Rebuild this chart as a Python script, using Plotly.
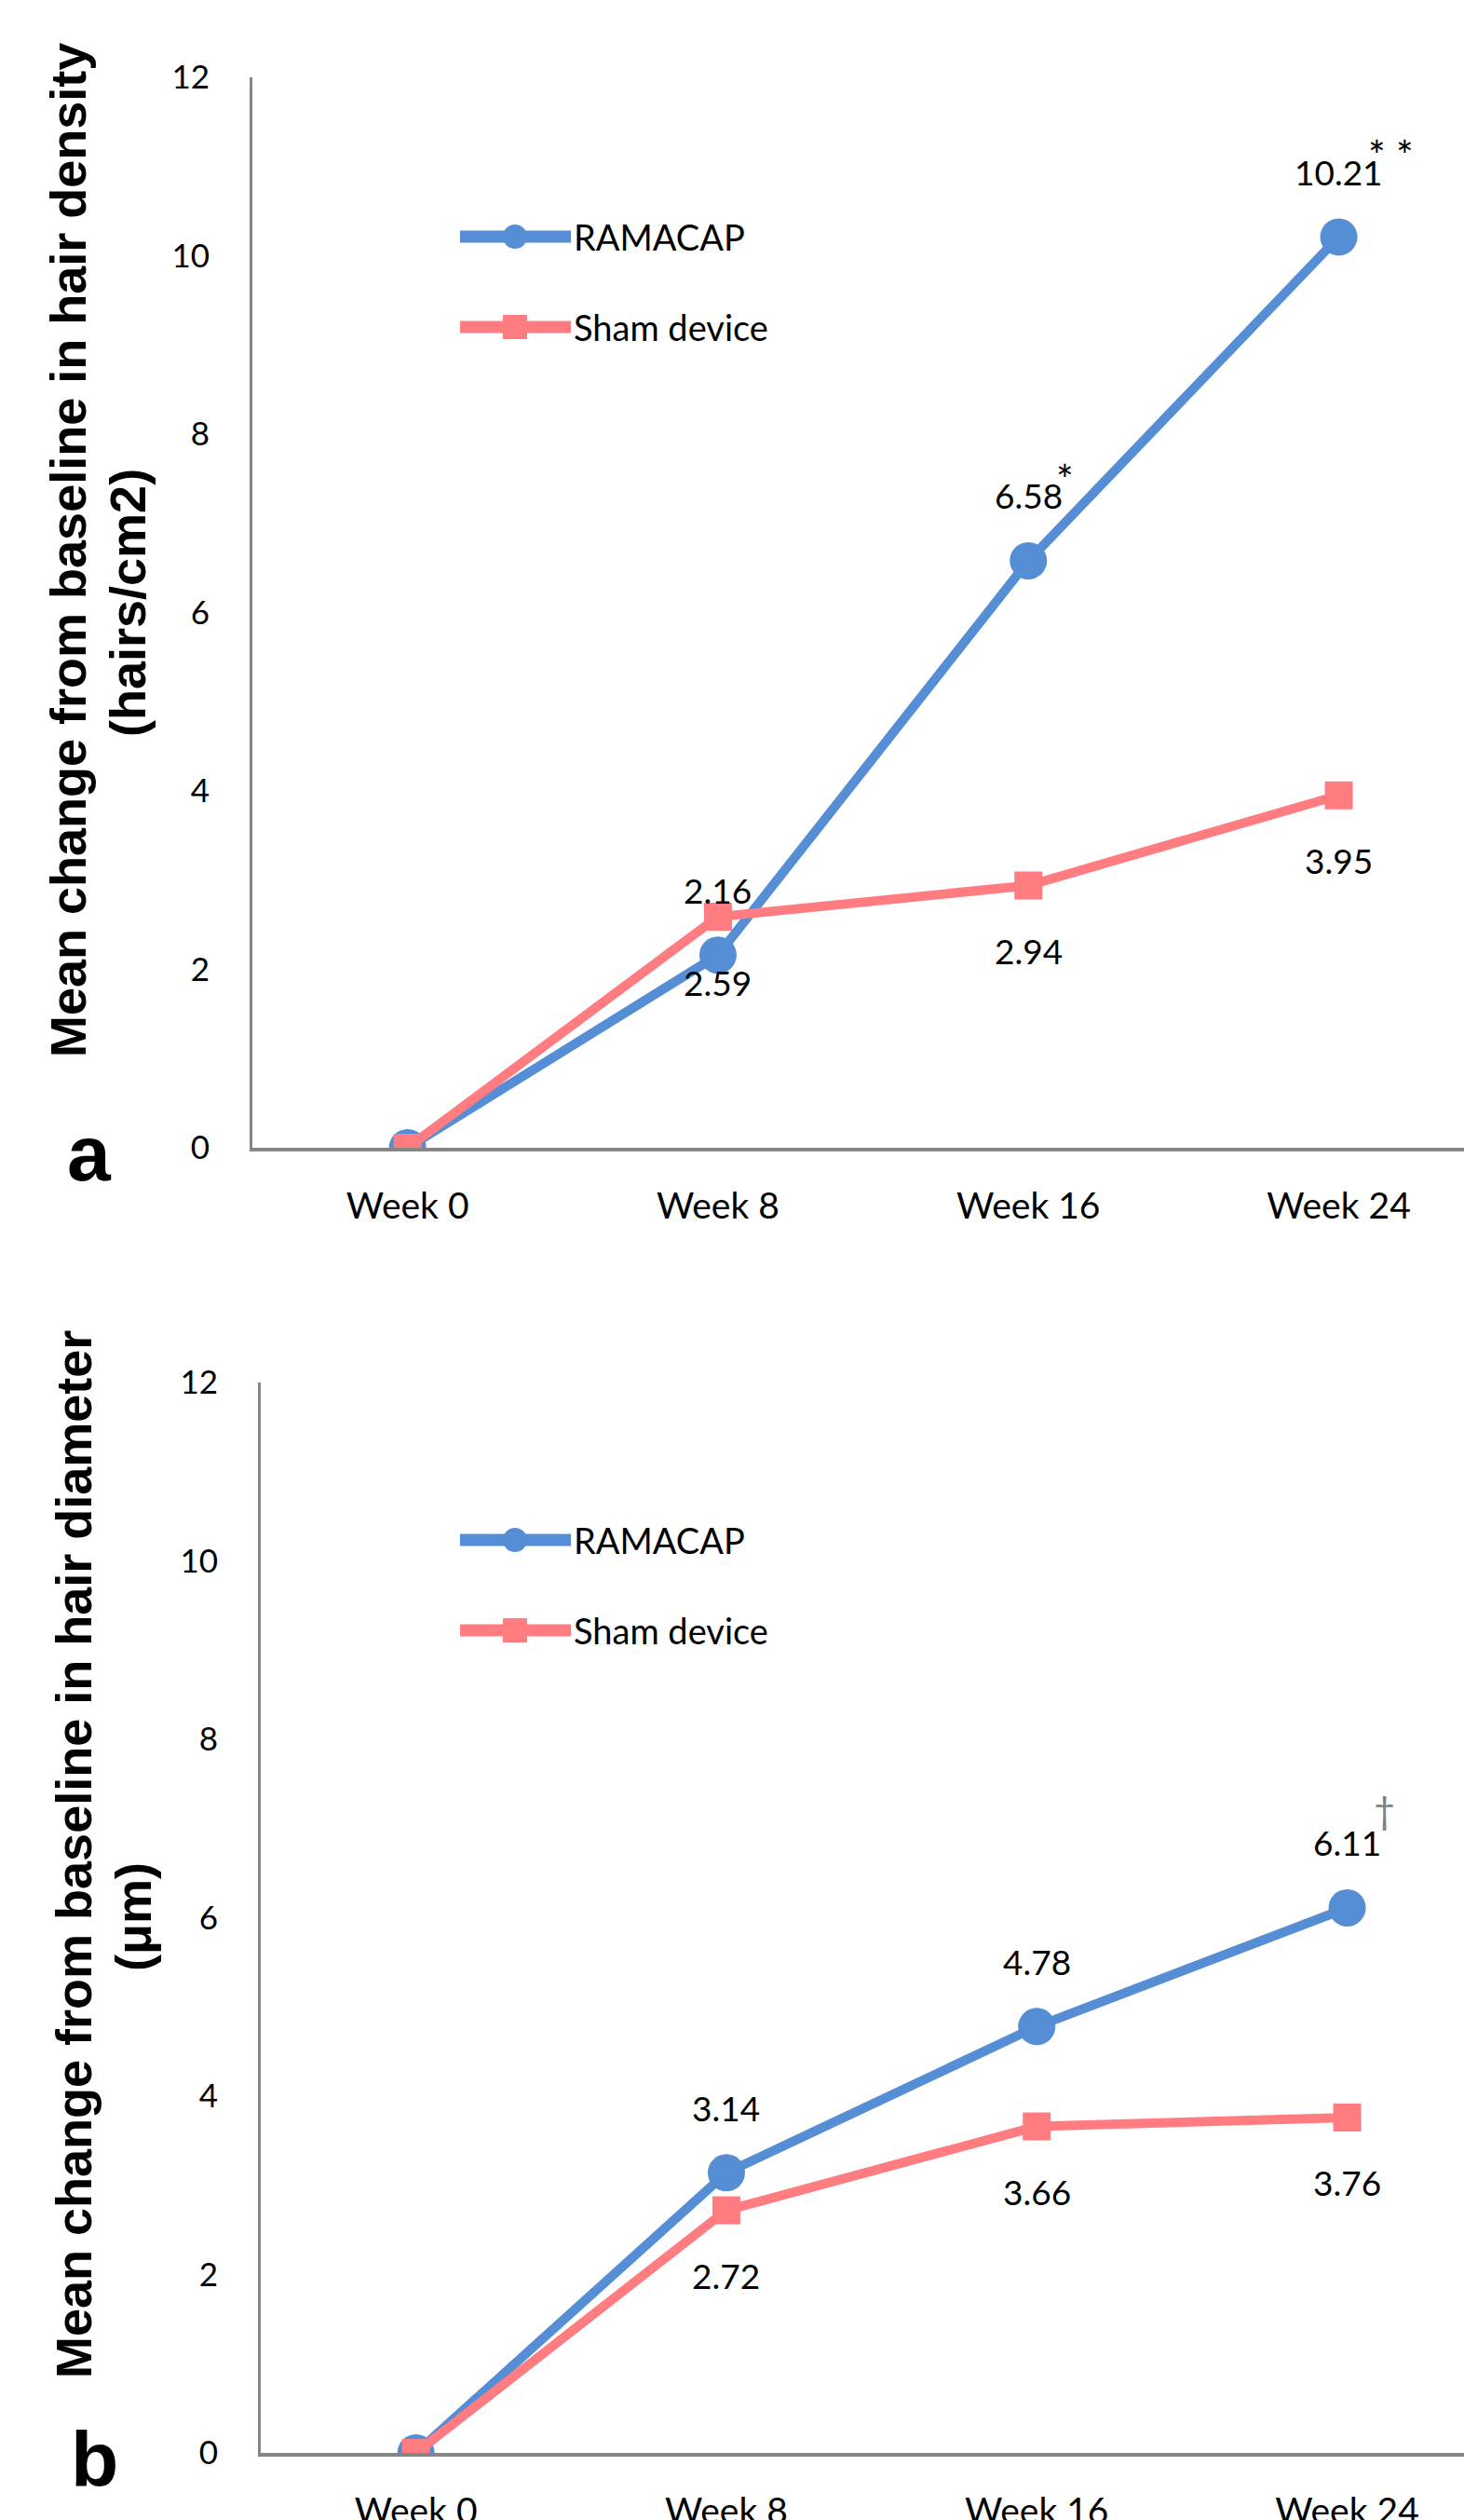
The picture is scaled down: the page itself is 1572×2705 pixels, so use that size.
import plotly.graph_objects as go

# ---------------- data ----------------
weeks = ["Week 0", "Week 8", "Week 16", "Week 24"]
series_names = ["RAMACAP", "Sham device"]
density_ramacap = [0, 2.16, 6.58, 10.21]
density_sham = [0, 2.59, 2.94, 3.95]
diameter_ramacap = [0, 3.14, 4.78, 6.11]
diameter_sham = [0, 2.72, 3.66, 3.76]
density_marks = ["", "", "*", "* *"]       # significance marks on RAMACAP labels
diameter_marks = ["", "", "", "\u2020"]
y_ticks = [0, 2, 4, 6, 8, 10, 12]
density_title = ["Mean change from baseline in hair density", "(hairs/cm2)"]
diameter_title = ["Mean change from baseline in hair diameter", "(\u03bcm)"]
panel_letters = ["a", "b"]

# ---------------- style ----------------
W, H = 1572, 2705
BLUE = "#558ED5"
PINK = "#FF7C80"
AXIS = "#868686"
TXT = "Lato"
BOLD = "Liberation Sans"


def px(x):
    return x / W


def py(y):
    return 1 - y / H


fig = go.Figure()

panels = [
    dict(xa="x", ya="y", ram=density_ramacap, sham=density_sham, marks=density_marks,
         top=83, bottom=1232, left=271, title=density_title,
         t1=(73, 591), t2=(137, 647), letter=(96, 1238), leg=(254, 351)),
    dict(xa="x2", ya="y2", ram=diameter_ramacap, sham=diameter_sham, marks=diameter_marks,
         top=1484, bottom=2633, left=280, title=diameter_title,
         t1=(79, 1991), t2=(143, 2058), letter=(101, 2640), leg=(1653, 1750)),
]

annotations = []
shapes = []

for i, p in enumerate(panels):
    fig.add_trace(go.Scatter(
        x=weeks, y=p["ram"], name=series_names[0], mode="lines+markers",
        line=dict(color=BLUE, width=10), marker=dict(symbol="circle", size=40, color=BLUE),
        xaxis=p["xa"], yaxis=p["ya"], showlegend=False))
    fig.add_trace(go.Scatter(
        x=weeks, y=p["sham"], name=series_names[1], mode="lines+markers",
        line=dict(color=PINK, width=10), marker=dict(symbol="square", size=30, color=PINK),
        xaxis=p["xa"], yaxis=p["ya"], showlegend=False))

    # data labels
    for j in range(1, len(weeks)):
        annotations.append(dict(x=weeks[j], y=p["ram"][j], xref=p["xa"], yref=p["ya"],
                                text=f"{p['ram'][j]:.2f}", showarrow=False, yshift=70,
                                font=dict(family=TXT, size=37, color="#000")))
        annotations.append(dict(x=weeks[j], y=p["sham"][j], xref=p["xa"], yref=p["ya"],
                                text=f"{p['sham'][j]:.2f}", showarrow=False, yshift=-70,
                                font=dict(family=TXT, size=37, color="#000")))
        if p["marks"][j]:
            dag = p["marks"][j] == "\u2020"
            annotations.append(dict(x=weeks[j], y=p["ram"][j], xref=p["xa"], yref=p["ya"],
                                    text=p["marks"][j], showarrow=False,
                                    xshift=40 if dag else (56 if len(p["marks"][j]) > 1 else 39),
                                    yshift=105 if dag else 88,
                                    font=dict(family=TXT, size=40 if dag else 44,
                                              color="#808080" if dag else "#000")))

    # axis titles (two lines, rotated)
    for k, (cx, cy) in enumerate([p["t1"], p["t2"]]):
        annotations.append(dict(x=px(cx), y=py(cy), xref="paper", yref="paper",
                                text=p["title"][k], textangle=-90, showarrow=False,
                                xanchor="center", yanchor="middle",
                                font=dict(family=BOLD, size=54, color="#000", weight="bold")))
    # panel letter
    annotations.append(dict(x=px(p["letter"][0]), y=py(p["letter"][1]), xref="paper", yref="paper",
                            text=panel_letters[i], showarrow=False,
                            xanchor="center", yanchor="middle",
                            font=dict(family=BOLD, size=84, color="#000", weight="bold")))

    # legend (drawn inside plot)
    lx0, lx1, lxc = 494, 613, 553
    for k, (ly, col, sym) in enumerate(zip(p["leg"], [BLUE, PINK], ["circle", "square"])):
        shapes.append(dict(type="line", xref="paper", yref="paper",
                           x0=px(lx0), x1=px(lx1), y0=py(ly), y1=py(ly),
                           line=dict(color=col, width=13)))
        r = 13
        shapes.append(dict(type="circle" if sym == "circle" else "rect", xref="paper", yref="paper",
                           x0=px(lxc - r), x1=px(lxc + r), y0=py(ly - r), y1=py(ly + r),
                           fillcolor=col, line=dict(color=col, width=0)))
        annotations.append(dict(x=px(614), y=py(ly), xref="paper", yref="paper",
                                text=series_names[k], showarrow=False,
                                xanchor="left", yanchor="middle",
                                font=dict(family=TXT, size=38, color="#000")))

layout = dict(
    width=W, height=H, margin=dict(l=0, r=0, t=0, b=0, pad=0),
    paper_bgcolor="white", plot_bgcolor="white", showlegend=False,
    annotations=annotations, shapes=shapes,
)

band = 333.3
for i, p in enumerate(panels):
    sfx = "" if i == 0 else "2"
    right = -0.5 + (W - p["left"]) / band
    layout["xaxis" + sfx] = dict(
        domain=[px(p["left"]), 1], anchor="y" + sfx, type="category",
        range=[-0.5, right], showline=True, linecolor=AXIS, linewidth=4,
        ticks="", showgrid=False, zeroline=False, automargin=False,
        ticklabelstandoff=25, tickfont=dict(family=TXT, size=39, color="#000"))
    layout["yaxis" + sfx] = dict(
        domain=[py(p["bottom"]), py(p["top"])], anchor="x" + sfx,
        range=[0, 12], tickvals=y_ticks, showline=True, linecolor=AXIS, linewidth=3,
        ticks="", showgrid=False, zeroline=False, automargin=False,
        ticklabelstandoff=36, tickfont=dict(family=TXT, size=35, color="#000"))

fig.update_layout(**layout)
fig.write_html("out.html", config={"displayModeBar": False},
               post_script="document.body.style.margin='0';document.body.style.overflow='hidden';")
